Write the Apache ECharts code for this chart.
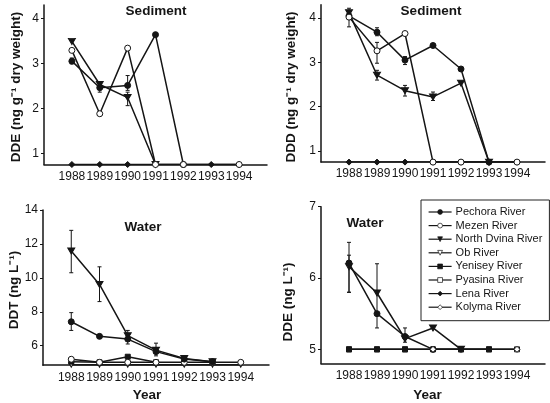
<!DOCTYPE html>
<html><head><meta charset="utf-8">
<script src="https://cdn.jsdelivr.net/npm/echarts@6/dist/echarts.min.js"></script>
<style>html,body{margin:0;padding:0;background:#fff}#c{width:550px;height:403px}</style>
</head><body><div id="c"></div>
<script>
// ---------- data ----------
const years = [1988, 1989, 1990, 1991, 1992, 1993, 1994];
const riverNames = ['Pechora River', 'Mezen River', 'North Dvina River', 'Ob River',
  'Yenisey River', 'Pyasina River', 'Lena River', 'Kolyma River'];

// Panel A: DDE in sediment (ng g-1 dry weight)
const sedDDE_lena       = [0.75, 0.75, 0.75, 0.75, 0.75, 0.75, 0.75];
const sedDDE_pechora    = [3.05, 2.46, 2.51, 3.64, 0.75, null, null];
const sedDDE_northDvina = [3.49, 2.53, 2.24, 0.75, null, null, null];
const sedDDE_mezen      = [3.29, 1.88, 3.34, 0.75, 0.75, null, 0.75];
const sedDDE_err = [[1988, 2.99, 3.12], [1989, 2.36, 2.58], [1990, 2.40, 2.73], [1990, 2.06, 2.36]];

// Panel B: DDD in sediment (ng g-1 dry weight)
const sedDDD_lena       = [0.75, 0.75, 0.75, 0.75, 0.75, 0.75, 0.75];
const sedDDD_pechora    = [4.05, 3.68, 3.05, 3.38, 2.85, 0.75, null];
const sedDDD_northDvina = [4.12, 2.71, 2.36, 2.22, 2.53, 0.75, null];
const sedDDD_mezen      = [4.02, 3.26, 3.65, 0.75, 0.75, null, 0.75];
const sedDDD_err = [[1988, 3.80, 4.22], [1989, 3.60, 3.78], [1989, 2.98, 3.45], [1989, 2.60, 2.82],
  [1990, 2.95, 3.13], [1990, 2.24, 2.48], [1991, 2.14, 2.33]];

// Panel C: DDT in water (ng L-1)
const watDDT_ob         = [4.87, 4.87, 4.87, 4.87, 4.87, 4.87, 4.87];
const watDDT_yenisey    = [5.06, 5.02, 5.35, 5.02, null, null, null];
const watDDT_mezen      = [5.20, 5.02, 5.02, 5.02, 5.02, 5.02, 5.02];
const watDDT_pechora    = [7.41, 6.55, 6.39, 5.65, 5.21, 5.06, null];
const watDDT_northDvina = [11.58, 9.61, 6.59, 5.74, 5.25, 5.06, null];
const watDDT_err = [[1988, 10.3, 12.8], [1989, 8.6, 10.65], [1990, 6.3, 6.9], [1991, 5.4, 6.15],
  [1988, 6.9, 7.95], [1989, 6.45, 6.65], [1990, 6.1, 6.6]];

// Panel D: DDE in water (ng L-1)
const watDDE_pyasina    = [5.0, 5.0, 5.0, 5.0, 5.0, 5.0, 5.0];
const watDDE_yenisey    = [5.0, 5.0, 5.0, null, 5.0, 5.0, null];
const watDDE_pechora    = [6.21, 5.50, 5.18, 5.0, null, null, null];
const watDDE_northDvina = [6.16, 5.79, 5.15, 5.30, 5.0, null, null];
const watDDE_kolyma     = [null, null, null, 5.0, null, null, 5.0];
const watDDE_err = [[1988, 5.8, 6.5], [1988, 5.8, 6.32], [1989, 5.3, 6.2], [1990, 5.1, 5.3]];

// tick labels
const ticksSed = [1, 2, 3, 4];
const ticksDDT = [6, 8, 10, 12, 14];
const ticksDDE = [5, 6, 7];

// ---------- styling ----------
const FONT = '"Liberation Sans", Arial, sans-serif';
const INK = '#151515';
const DOWN_TRI = 'path://M0,0L10,0L5,9Z';
const riverStyle = {
  'Pechora River':     { symbol: 'circle',   fill: INK,    size: 6 },
  'Mezen River':       { symbol: 'circle',   fill: '#fff', size: 6 },
  'North Dvina River': { symbol: DOWN_TRI,   fill: INK,    size: [7, 6] },
  'Ob River':          { symbol: DOWN_TRI,   fill: '#fff', size: [5, 4.5] },
  'Yenisey River':     { symbol: 'rect',     fill: INK,    size: 5 },
  'Pyasina River':     { symbol: 'rect',     fill: '#fff', size: 5 },
  'Lena River':        { symbol: 'diamond',  fill: INK,    size: 6 },
  'Kolyma River':      { symbol: 'diamond',  fill: '#fff', size: 6 }
};

function line(name, idx, values) {
  const r = riverStyle[name];
  const data = [];
  values.forEach((v, i) => { if (v !== null) data.push([years[i], v]); });
  return {
    type: 'line', name, xAxisIndex: idx, yAxisIndex: idx, data,
    symbol: r.symbol, symbolSize: r.size,
    showAllSymbol: true, animation: false, silent: true,
    lineStyle: { color: INK, width: 1.5 },
    itemStyle: { color: r.fill, borderColor: INK, borderWidth: 1 },
    emphasis: { disabled: true }
  };
}

function errBars(idx, arr) {
  return {
    type: 'custom', xAxisIndex: idx, yAxisIndex: idx, data: arr,
    encode: { x: 0, y: [1, 2] }, silent: true, animation: false, z: 1,
    renderItem(params, api) {
      const x = api.value(0), lo = api.value(1), hi = api.value(2);
      const a = api.coord([x, lo]), b = api.coord([x, hi]);
      const w = 2;
      const st = { stroke: INK, lineWidth: 1 };
      return { type: 'group', children: [
        { type: 'line', shape: { x1: a[0], y1: a[1], x2: b[0], y2: b[1] }, style: st },
        { type: 'line', shape: { x1: a[0] - w, y1: a[1], x2: a[0] + w, y2: a[1] }, style: st },
        { type: 'line', shape: { x1: b[0] - w, y1: b[1], x2: b[0] + w, y2: b[1] }, style: st }
      ]};
    }
  };
}

function xAx(idx) {
  return {
    type: 'value', gridIndex: idx, min: 1987, max: 1995,
    axisLine: { show: true, onZero: false, lineStyle: { color: INK, width: 1.5 } },
    axisTick: { show: false }, splitLine: { show: false },
    axisLabel: { customValues: years, formatter: v => String(v), fontFamily: FONT,
      fontSize: 12, color: INK, margin: 6 }
  };
}
function yAx(idx, min, max, ticks) {
  return {
    type: 'value', gridIndex: idx, min, max,
    axisLine: { show: true, onZero: false, lineStyle: { color: INK, width: 1.5 } },
    axisTick: { show: true, length: 3, customValues: ticks, lineStyle: { color: INK, width: 1 } },
    splitLine: { show: false },
    axisLabel: { customValues: ticks, fontFamily: FONT, fontSize: 12, color: INK, margin: 5 }
  };
}

function txt(x, y, text, rot) {
  return { type: 'text', x, y, rotation: rot ? Math.PI / 2 : 0, silent: true,
    style: { text, font: 'bold 13.5px ' + FONT, fill: INK, textAlign: 'center', textVerticalAlign: 'middle' } };
}

const option = {
  animation: false,
  backgroundColor: '#fff',
  grid: [
    { left: 44,  top: 5,     width: 223, height: 159.5 },
    { left: 321, top: 4.7,   width: 224, height: 157.4 },
    { left: 43,  top: 210,   width: 226, height: 155.2 },
    { left: 321, top: 206.7, width: 224, height: 156.9 }
  ],
  xAxis: [xAx(0), xAx(1), xAx(2), xAx(3)],
  yAxis: [
    yAx(0, 0.75, 4.3, ticksSed),
    yAx(1, 0.75, 4.3, ticksSed),
    yAx(2, 4.85, 14, ticksDDT),
    yAx(3, 4.8, 7, ticksDDE)
  ],
  legend: {
    data: riverNames, orient: 'vertical', left: 421, top: 200,
    itemWidth: 23, itemHeight: 6, itemGap: 2.6,
    padding: [6.5, 7, 8, 7], borderColor: '#222', borderWidth: 1, borderRadius: 0,
    selectedMode: false,
    lineStyle: { width: 1.2 },
    itemStyle: { borderWidth: 0.7 },
    textStyle: { fontFamily: FONT, fontSize: 11, color: INK, padding: [0, 0, 0, -1] }
  },
  graphic: [
    txt(156, 11, 'Sediment'),
    txt(431, 11, 'Sediment'),
    txt(143, 227, 'Water'),
    txt(365, 223, 'Water'),
    txt(147, 395, 'Year'),
    txt(427.5, 395, 'Year'),
    txt(16.5, 87, 'DDE (ng g⁻¹ dry weight)', true),
    txt(291.5, 87, 'DDD (ng g⁻¹ dry weight)', true),
    txt(14, 290, 'DDT (ng L⁻¹)', true),
    txt(288, 302, 'DDE (ng L⁻¹)', true)
  ],
  series: [
    errBars(0, sedDDE_err),
    line('Lena River', 0, sedDDE_lena),
    line('Pechora River', 0, sedDDE_pechora),
    line('North Dvina River', 0, sedDDE_northDvina),
    line('Mezen River', 0, sedDDE_mezen),

    errBars(1, sedDDD_err),
    line('Lena River', 1, sedDDD_lena),
    line('Pechora River', 1, sedDDD_pechora),
    line('North Dvina River', 1, sedDDD_northDvina),
    line('Mezen River', 1, sedDDD_mezen),

    errBars(2, watDDT_err),
    line('Ob River', 2, watDDT_ob),
    line('Yenisey River', 2, watDDT_yenisey),
    line('Mezen River', 2, watDDT_mezen),
    line('Pechora River', 2, watDDT_pechora),
    line('North Dvina River', 2, watDDT_northDvina),

    errBars(3, watDDE_err),
    line('Pyasina River', 3, watDDE_pyasina),
    line('Yenisey River', 3, watDDE_yenisey),
    line('Pechora River', 3, watDDE_pechora),
    line('North Dvina River', 3, watDDE_northDvina),
    line('Kolyma River', 3, watDDE_kolyma)
  ]
};
const chart = echarts.init(document.getElementById('c'), null, { renderer: 'canvas' });
chart.setOption(option);
</script></body></html>
